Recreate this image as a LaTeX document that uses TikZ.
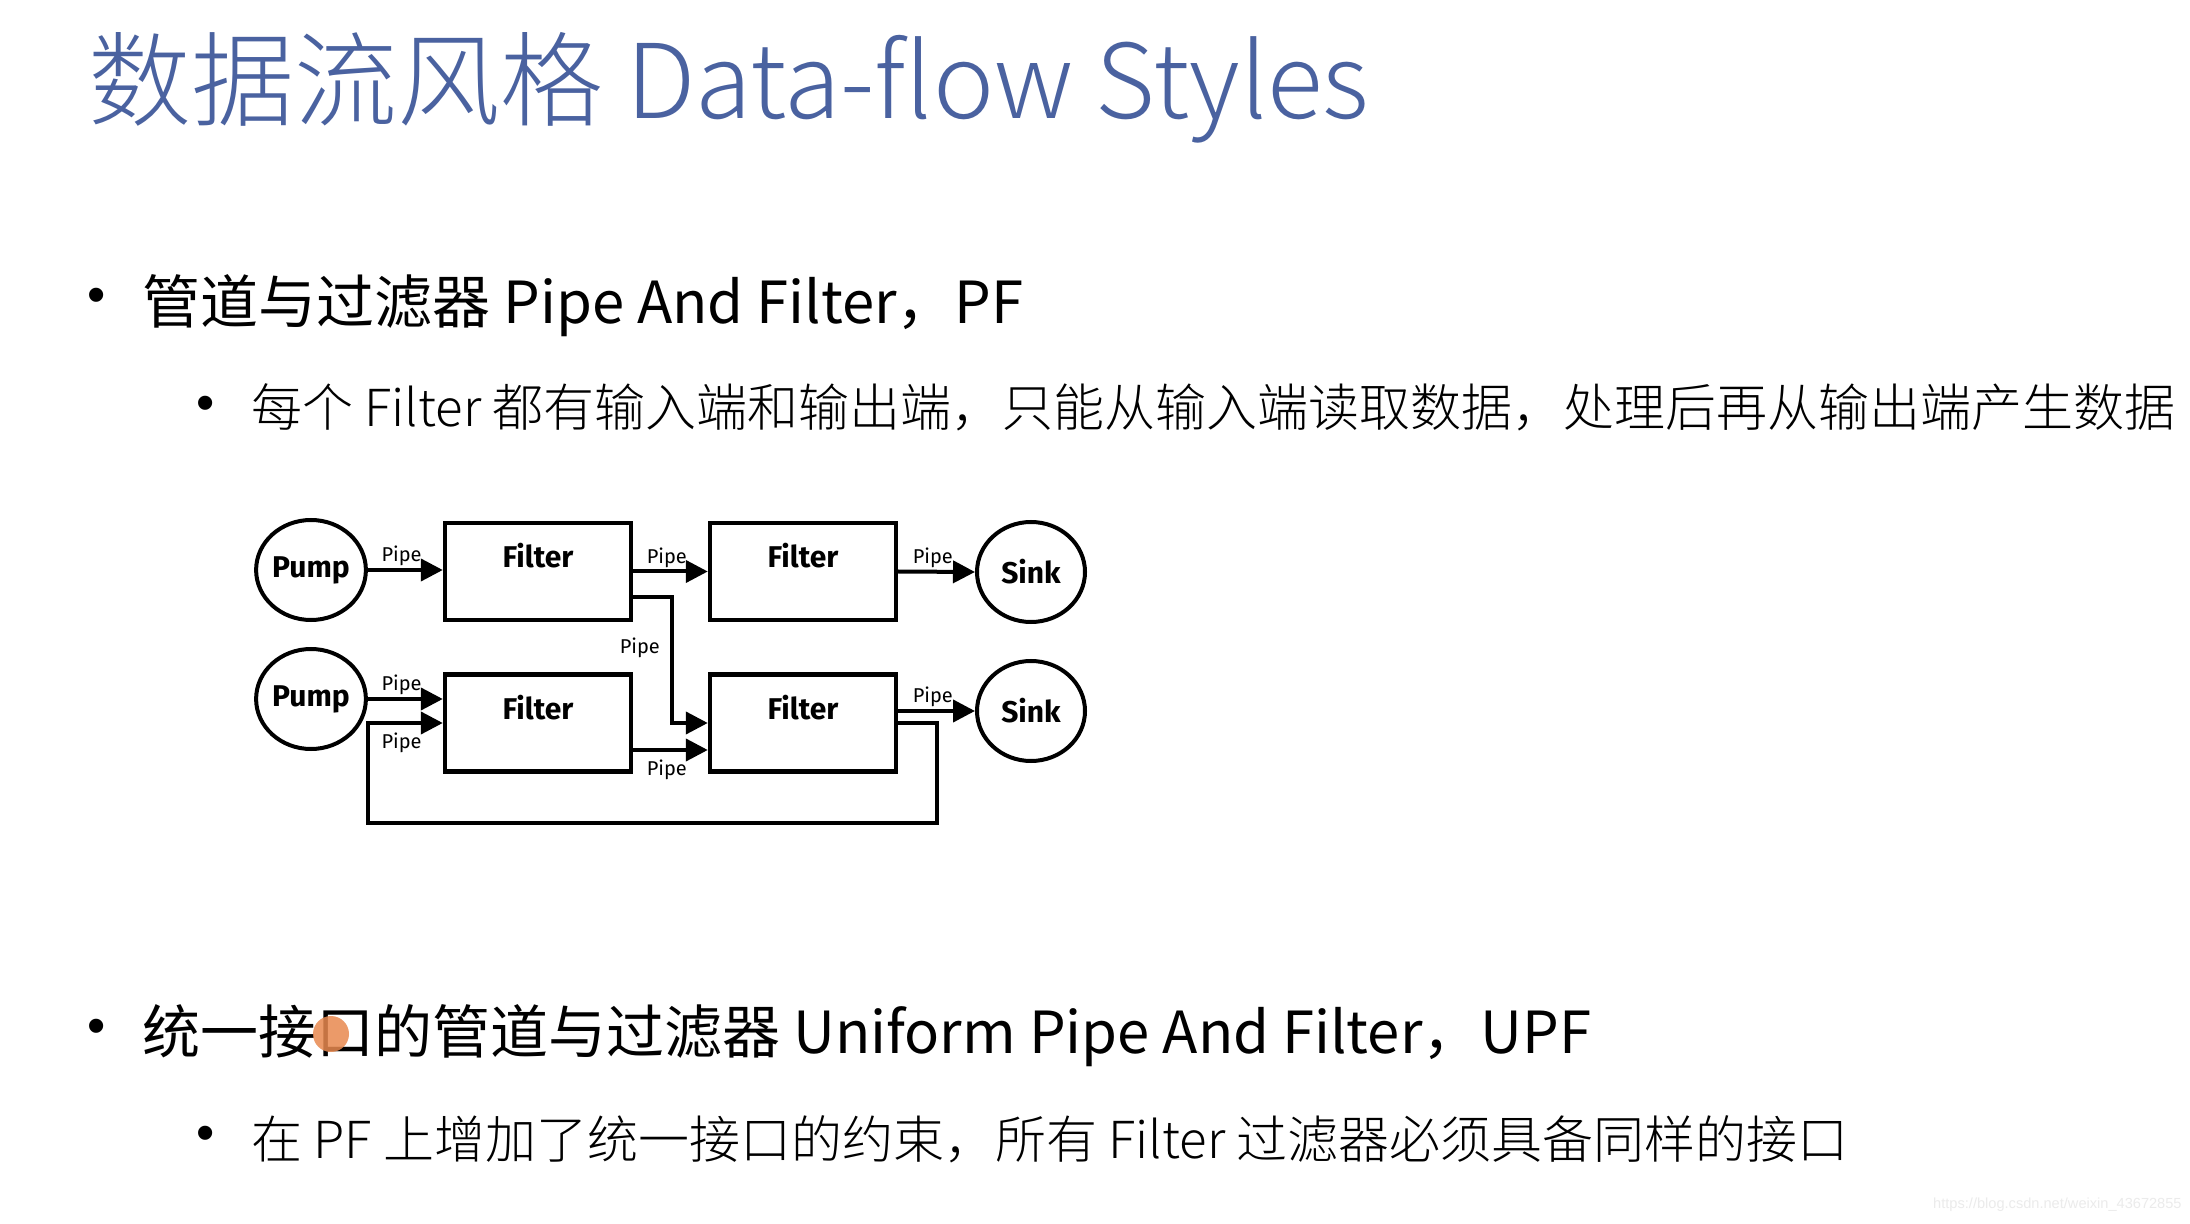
\documentclass[tikz,border=0pt]{standalone}
\usepackage{fontspec}
\setmainfont{Noto Sans CJK SC}
\newfontfamily\lightfont{Noto Sans CJK SC Light}
\newfontfamily\boxfont{Fira Sans}
\newfontfamily\markfont{Liberation Sans}
\usetikzlibrary{arrows.meta}
\usetikzlibrary{shapes.geometric}
\definecolor{titleblue}{HTML}{4A62A0}
\definecolor{cursororange}{HTML}{E8894F}
\tikzset{
    pipearrow/.style={-{Triangle[length=11pt,width=11pt]}, line width=2pt},
    filterbox/.style={draw, line width=2.2pt, minimum width=93pt, minimum height=48.5pt, inner sep=0pt},
    endcircle/.style={shape=ellipse, draw, line width=2pt, minimum width=54pt, minimum height=50pt, inner sep=0pt, font=\boxfont\bfseries\fontsize{15}{15}\selectfont},
    filtertext/.style={inner sep=0pt, font=\boxfont\bfseries\fontsize{15}{15}\selectfont},
    pipetext/.style={inner sep=1pt, font=\boxfont\fontsize{10}{10}\selectfont},
    bulletdot/.style={inner sep=0pt, font=\markfont\fontsize{26}{26}\selectfont},
    heading/.style={anchor=base west, inner sep=0pt, font=\fontsize{29}{31}\selectfont},
    subheading/.style={anchor=base west, inner sep=0pt, font=\lightfont\fontsize{25.5}{27}\selectfont}
}

\begin{document}
\begin{tikzpicture}[x=0.5pt, y=-0.5pt]
    \fill[white] (0,0) rectangle (2190,1224);
    \useasboundingbox (0,0) rectangle (2190,1224);

    \node[anchor=base west, inner sep=0pt, text=titleblue, font=\lightfont\fontsize{51.5}{52}\selectfont] (title) at (88,119) {数据流风格 Data-flow Styles};

    \node[bulletdot] (b1) at (97,300) {•};
    \node[heading] (pf) at (142,324) {管道与过滤器 Pipe And Filter，PF};
    \node[bulletdot] (b11) at (206,408) {•};
    \node[subheading] (pfnote) at (251,427) {每个 Filter 都有输入端和输出端，只能从输入端读取数据，处理后再从输出端产生数据};

    \node[endcircle] (pump1) at (311,570) {Pump};
    \node[endcircle] (pump2) at (311,699) {Pump};
    \node[filterbox, label={[filtertext, anchor=north, yshift=-11pt]north:Filter}] (filter1) at (538,571.5) {};
    \node[filterbox, label={[filtertext, anchor=north, yshift=-11pt]north:Filter}] (filter2) at (538,723) {};
    \node[filterbox, label={[filtertext, anchor=north, yshift=-11pt]north:Filter}] (filter3) at (803,571.5) {};
    \node[filterbox, label={[filtertext, anchor=north, yshift=-11pt]north:Filter}] (filter4) at (803,723) {};
    \node[endcircle] (sink1) at (1031,572) {Sink};
    \node[endcircle] (sink2) at (1031,711) {Sink};

    \draw[pipearrow] (pump1.east) -- node[pipetext, above, pos=0.45] {Pipe} (pump1.east -| filter1.west);
    \draw[pipearrow] (filter1.east) -- node[pipetext, above, pos=0.45] {Pipe} (filter3.west);
    \draw[pipearrow] (filter3.east) -- node[pipetext, above, pos=0.45] {Pipe} (sink1.west);
    \draw[pipearrow] ([yshift=-12.75pt]filter1.east) -| node[pipetext, left=4pt, pos=0.7] {Pipe} ([xshift=-18pt]filter4.west) -- (filter4.west);
    \draw[pipearrow] (pump2.east) -- node[pipetext, above, pos=0.45] {Pipe} (pump2.east -| filter2.west);
    \draw[pipearrow] ([yshift=-13.5pt]filter2.east) -- node[pipetext, below=3pt, pos=0.45] {Pipe} ([yshift=-13.5pt]filter4.west);
    \draw[pipearrow] (sink2.west -| filter4.east) -- node[pipetext, above, pos=0.45] {Pipe} (sink2.west);
    \draw[pipearrow] (filter4.east) -- ++(39,0) -- ++(0,100) -| (pump2.east |- filter2.west) -- node[pipetext, below=3pt, pos=0.45] {Pipe} (filter2.west);

    \node[bulletdot] (b2) at (97,1031) {•};
    \node[heading] (upf) at (142,1053) {统一接口的管道与过滤器 Uniform Pipe And Filter，UPF};
    \node[bulletdot] (b21) at (206,1138) {•};
    \node[subheading] (upfnote) at (251,1158) {在 PF 上增加了统一接口的约束，所有 Filter 过滤器必须具备同样的接口};

    \fill[cursororange, opacity=0.85] (331,1034) circle (18);

    \node[anchor=base east, inner sep=0pt, text=black!8, font=\markfont\fontsize{7.3}{8}\selectfont] (mark) at (2182,1208) {https://blog.csdn.net/weixin\_43672855};
\end{tikzpicture}
\end{document}
